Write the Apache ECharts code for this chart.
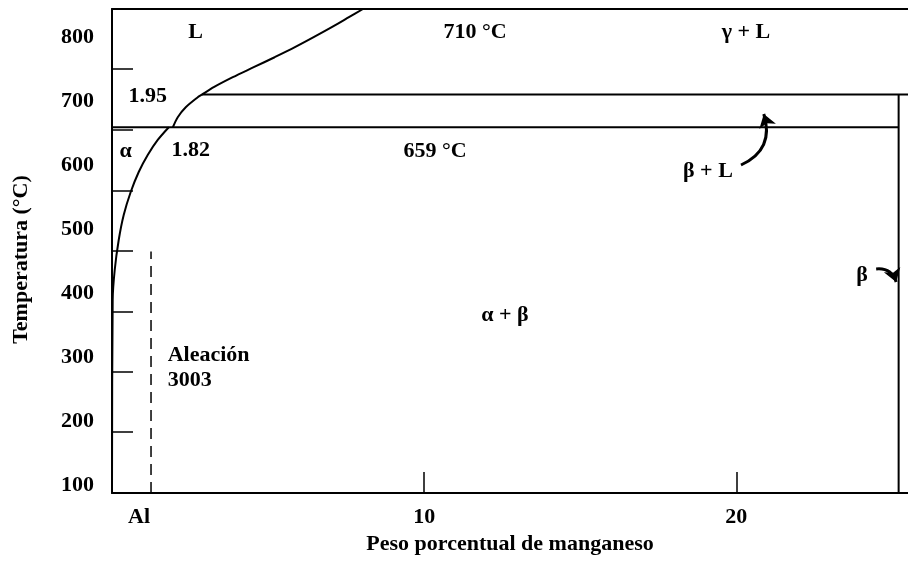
<!DOCTYPE html>
<html>
<head>
<meta charset="utf-8">
<script src="https://cdn.jsdelivr.net/npm/echarts@6/dist/echarts.min.js"></script>
<style>
  html, body { margin: 0; padding: 0; background: #fff; }
  #chart { width: 908px; height: 572px; }
</style>
</head>
<body>
<div id="chart"></div>
<script>
// Aluminium-rich corner of the Al–Mn phase diagram with alloy 3003

// axis ranges and tick values
const tempRange = [87.5, 843.75];          // °C
const mnRange = [0, 25.5];                  // wt% Mn
const tempLabels = [100, 200, 300, 400, 500, 600, 700, 800];
const tempTicks = [750, 655, 560, 466, 371, 277, 183];
const mnLabels = [0, 10, 20];
const mnTicks = [10, 20];

// invariant temperatures and compositions
const peritecticT = 710;
const eutecticT = 659;
const eutecticLiquidMn = 1.95;   // liquid at the eutectic
const eutecticAlphaMn = 1.82;    // maximum solubility in α
const betaMn = 25.2;
const alloy3003Mn = 1.25;
const alloy3003Top = 465;

// α solvus, from the bottom of the diagram up to the eutectic
const solvusMn = [0, 0.022, 0.087, 0.215, 0.375, 0.599, 0.856, 1.144, 1.465, 1.82];
const solvusT  = [87.5, 389.1, 435.9, 482.8, 521.9, 557.8, 589.1, 615.6, 639.1, 659];
// liquidus, from the eutectic up to the top of the diagram
const liquidusMn = [1.95, 2.106, 2.362, 2.747, 2.88, 3.26, 3.87, 4.54, 5.21, 5.86, 6.46, 7.04, 7.59, 8.04];
const liquidusT  = [659, 674.7, 690.3, 705.9, 710, 721.6, 737.2, 752.8, 768.4, 784.1, 799.7, 815.3, 830.9, 843.75];

// phase-field names and where they sit (wt% Mn, °C)
const fieldNames = ['L', 'γ + L', 'α', 'α + β', 'β + L', 'β'];
const fieldMn    = [2.68, 20.31, 0.44, 12.59, 19.09, 24.03];
const fieldT     = [807.8, 807.8, 621.9, 365.6, 590.6, 428.1];

// where the isotherm temperatures are written (wt% Mn, °C)
const isothermTextMn = [11.63, 10.35];
const isothermTextT  = [807.8, 621.9];

// pointer arrows from the β + L and β names (wt% Mn, °C)
const betaLArrow = [[20.15, 600], [20.88, 679.7]];
const betaArrow  = [[24.48, 437.5], [25.12, 417.2]];

const zip = (xs, ys) => xs.map((x, i) => [x, ys[i]]);
// composition where the liquidus reaches the peritectic isotherm
const liquidusAtPeritectic = liquidusMn[liquidusT.indexOf(peritecticT)];

const font = {
  fontFamily: 'Liberation Serif, Times New Roman, serif',
  fontWeight: 'bold',
  fontSize: 22,
  color: '#000',
  textBorderWidth: 0
};
const ink = '#000';

const plainLine = (data, extra) => Object.assign({
  type: 'line',
  data,
  symbol: 'none',
  silent: true,
  lineStyle: { color: ink, width: 2 }
}, extra || {});

const textSeries = (data, labelExtra) => ({
  type: 'scatter',
  data,
  symbolSize: 0,
  silent: true,
  itemStyle: { color: ink, opacity: 1 },
  label: Object.assign({
    show: true,
    position: 'inside',
    opacity: 1,
    formatter: p => p.data[2]
  }, font, labelExtra || {})
});

const chart = echarts.init(document.getElementById('chart'), null, { renderer: 'canvas' });

chart.setOption({
  animation: false,
  backgroundColor: '#fff',
  grid: { left: 112, top: 9, right: 0, bottom: 79 },
  xAxis: [{
    type: 'value',
    min: mnRange[0],
    max: mnRange[1],
    name: 'Peso porcentual de manganeso',
    nameLocation: 'middle',
    nameGap: 40,
    nameMoveOverlap: false,
    nameTextStyle: Object.assign({}, font),
    axisLine: { show: true, lineStyle: { color: ink, width: 2 } },
    axisTick: { show: true, inside: true, length: 21, customValues: mnTicks, lineStyle: { color: ink, width: 1.5 } },
    axisLabel: Object.assign({
      margin: 13,
      customValues: mnLabels,
      formatter: v => (v === 0 ? '{al|Al}' : String(v)),
      rich: { al: Object.assign({}, font, { padding: [0, 0, 0, 54] }) }
    }, font),
    splitLine: { show: false }
  }, {
    type: 'value',
    position: 'top',
    min: mnRange[0],
    max: mnRange[1],
    axisLine: { show: true, lineStyle: { color: ink, width: 2 } },
    axisTick: { show: false },
    axisLabel: { show: false },
    splitLine: { show: false }
  }],
  yAxis: {
    type: 'value',
    min: tempRange[0],
    max: tempRange[1],
    name: 'Temperatura (°C)',
    nameLocation: 'middle',
    nameGap: 80,
    nameMoveOverlap: false,
    nameTextStyle: Object.assign({}, font, { padding: [0, 17, 0, 0] }),
    axisLine: { show: true, lineStyle: { color: ink, width: 2 } },
    axisTick: { show: true, inside: true, length: 21, customValues: tempTicks, lineStyle: { color: ink, width: 1.5 } },
    axisLabel: Object.assign({ margin: 18, customValues: tempLabels }, font),
    splitLine: { show: false }
  },
  series: [
    // α solvus and liquidus
    plainLine(zip(solvusMn, solvusT), { smooth: 0.3 }),
    plainLine(zip(liquidusMn, liquidusT), { smooth: 0.3 }),
    // isotherms
    plainLine([[liquidusAtPeritectic, peritecticT], [mnRange[1], peritecticT]]),
    plainLine([[0, eutecticT], [betaMn, eutecticT]]),
    // β phase (Al6Mn) composition line
    plainLine([[betaMn, peritecticT], [betaMn, tempRange[0]]]),
    // alloy 3003
    plainLine([[alloy3003Mn, tempRange[0]], [alloy3003Mn, alloy3003Top]], {
      lineStyle: { color: ink, width: 1.5, type: [11, 7] }
    }),
    // phase fields
    textSeries(fieldNames.map((n, i) => [fieldMn[i], fieldT[i], n])),
    // isotherm temperatures
    textSeries([
      [isothermTextMn[0], isothermTextT[0], peritecticT + ' °C'],
      [isothermTextMn[1], isothermTextT[1], eutecticT + ' °C']
    ]),
    // compositions at the eutectic
    textSeries([[eutecticLiquidMn, eutecticT, String(eutecticLiquidMn)]], { offset: [-25, -31] }),
    textSeries([[eutecticAlphaMn, eutecticT, String(eutecticAlphaMn)]], { offset: [22, 23] }),
    // alloy name
    textSeries([[1.785, 283.6, 'Aleación\n3003']], { align: 'left', lineHeight: 25 }),
    // pointer arrows
    {
      type: 'lines',
      coordinateSystem: 'cartesian2d',
      silent: true,
      symbol: ['none', 'arrow'],
      symbolSize: 13,
      lineStyle: { color: ink, width: 3, opacity: 1, curveness: -0.44 },
      data: [{ coords: betaLArrow }]
    },
    {
      type: 'lines',
      coordinateSystem: 'cartesian2d',
      silent: true,
      symbol: ['none', 'arrow'],
      symbolSize: 13,
      lineStyle: { color: ink, width: 3, opacity: 1, curveness: 0.4 },
      data: [{ coords: betaArrow }]
    }
  ]
});
</script>
</body>
</html>
